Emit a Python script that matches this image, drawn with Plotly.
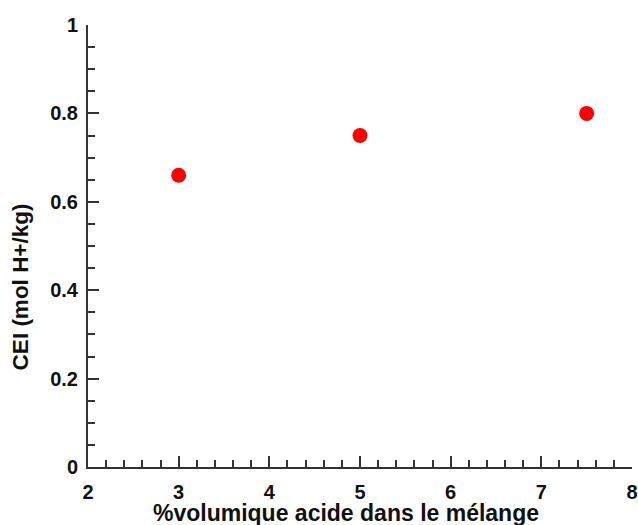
import plotly.graph_objects as go

x_vals = [3, 5, 7.5]
y_vals = [0.66, 0.75, 0.80]
x_title = "%volumique acide dans le mélange"
y_title = "CEI (mol H+/kg)"

font_fam = "Liberation Sans"
txt_col = "#111111"
ax_col = "#333333"

fig = go.Figure()
fig.add_trace(go.Scatter(
    x=x_vals, y=y_vals, mode="markers",
    marker=dict(color="#ff0000", size=15, line=dict(width=0)),
    cliponaxis=False, showlegend=False,
))

axis_common = dict(
    showgrid=False, zeroline=False, showline=True,
    linecolor=ax_col, linewidth=2,
    ticks="inside", tickcolor=ax_col, tickwidth=2, ticklen=11,
    tickfont=dict(family=font_fam, size=20, color=txt_col, weight="bold"),
    mirror=False, automargin=False, ticklabeloverflow="allow",
)

fig.update_xaxes(
    range=[2, 8], dtick=1, tick0=2,
    minor=dict(ticks="inside", ticklen=7, dtick=0.2, tickcolor=ax_col, tickwidth=1.5),
    ticklabelstandoff=6,
    **axis_common,
)
fig.update_yaxes(
    range=[0, 1], dtick=0.2, tick0=0,
    minor=dict(ticks="inside", ticklen=7, dtick=0.05, tickcolor=ax_col, tickwidth=1.5),
    ticklabelstandoff=4,
    **axis_common,
)

fig.add_annotation(
    text=x_title, xref="paper", yref="paper", x=0.474, y=-0.105,
    xanchor="center", yanchor="middle", showarrow=False,
    font=dict(family=font_fam, size=23, color=txt_col, weight="bold"),
)
fig.add_annotation(
    text=y_title, xref="paper", yref="paper", x=-0.1245, y=0.407,
    xanchor="center", yanchor="middle", showarrow=False, textangle=-90,
    font=dict(family=font_fam, size=22.5, color=txt_col, weight="bold"),
)

fig.update_layout(
    width=638, height=525,
    margin=dict(l=88, r=6, t=25, b=58),
    paper_bgcolor="white", plot_bgcolor="white",
)

fig.write_html(
    "out.html",
    config={"displayModeBar": False},
    post_script="document.body.style.margin='0';document.body.style.overflow='hidden';",
)
